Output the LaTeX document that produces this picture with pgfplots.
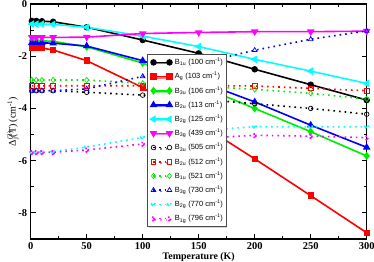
\documentclass[border=0pt]{standalone}
\usepackage{pgfplots}
\pgfplotsset{compat=1.18}
\usepackage{fontspec}
\setmainfont{Liberation Serif}
\setsansfont{Liberation Sans}
\usetikzlibrary{shadows}
\definecolor{cred}{RGB}{255,0,0}
\definecolor{cgreen}{RGB}{0,235,0}
\definecolor{cblue}{RGB}{0,0,255}
\definecolor{ccyan}{RGB}{0,255,255}
\definecolor{cmag}{RGB}{255,0,255}
\newcommand{\sbsp}[2]{\rlap{\textsuperscript{#1}}\textsubscript{#2}}
\begin{document}
\begin{tikzpicture}
\begin{axis}[
  at={(0,0)}, anchor=south west,
  scale only axis, width=336bp, height=235bp,
  xmin=0, xmax=300, ymin=-9, ymax=0,
  xtick={0,50,...,300}, ytick={-8,-6,-4,-2,0},
  minor xtick={25,75,...,275}, minor ytick={-9,-7,-5,-3,-1},
  tick align=inside, major tick length=5bp, minor tick length=3bp,
  axis line style={line width=1.1bp}, tick style={line width=0.8bp, black},
  /pgf/number format/assume math mode=true,
  tick label style={font=\fontsize{10.5}{12}\selectfont\bfseries},
  xlabel={Temperature (K)},
  xlabel style={font=\fontsize{10}{11}\selectfont\bfseries, at={(axis description cs:0.5,0)}, anchor=center, yshift=-17.7bp},
  ylabel={Δ\sbsp{(3)}{j}(T) (cm\textsuperscript{-1})},
  ylabel style={font=\fontsize{10}{12}\selectfont, at={(axis description cs:-0.053,0.5)}, anchor=center},
  legend cell align=left,
  legend style={at={(axis description cs:0.347,0.787)}, anchor=north west,
    font=\sffamily\fontsize{7.5}{8}\selectfont, draw=gray!60!black, line width=0.8bp,
    fill=white, drop shadow={shadow xshift=1.2bp, shadow yshift=-1.2bp, fill=gray!60},
    nodes={inner sep=0pt, text height=7.2bp, text depth=2.6bp},
    row sep=4.4bp, column sep=3bp, inner xsep=3bp, inner ysep=3bp},
  legend image code/.code={\draw[#1, mark repeat=1, mark phase=1] plot coordinates {(0bp,0bp) (16bp,0bp)};},
  every axis plot/.append style={line width=1.6bp},
  sol/.style={solid, mark size=2.4bp, mark options={solid}},
  dot/.style={line width=1.6bp, dash pattern=on 1.6bp off 4bp, mark size=2.3bp, mark options={solid, line width=0.7bp, fill=none}},
]
% solid series
\addplot[sol, black, mark=*] coordinates {(1,-0.65)(5,-0.65)(10,-0.66)(20,-0.68)(50,-0.89)(100,-1.38)(150,-1.89)(200,-2.50)(250,-3.09)(300,-3.68)};
\addlegendentry{B\textsubscript{1u} (100 cm\textsuperscript{-1})}
\addplot[sol, cred, mark=square*] coordinates {(1,-1.67)(5,-1.67)(10,-1.69)(20,-1.76)(50,-2.17)(100,-3.20)(150,-4.56)(200,-5.93)(250,-7.34)(300,-8.76)};
\addlegendentry{A\textsubscript{g} (103 cm\textsuperscript{-1})}
\addplot[sol, cgreen, mark=diamond*, mark size=2.8bp] coordinates {(1,-1.40)(5,-1.40)(10,-1.41)(20,-1.43)(50,-1.64)(100,-2.26)(150,-3.12)(200,-4.00)(250,-4.89)(300,-5.82)};
\addlegendentry{B\textsubscript{3u} (106 cm\textsuperscript{-1})}
\addplot[sol, cblue, mark=triangle*, mark size=2.8bp] coordinates {(1,-1.48)(5,-1.48)(10,-1.49)(20,-1.50)(50,-1.61)(100,-2.17)(150,-2.95)(200,-3.75)(250,-4.64)(300,-5.49)};
\addlegendentry{B\textsubscript{2u} (113 cm\textsuperscript{-1})}
\addplot[sol, ccyan, mark=triangle*, mark size=2.8bp, mark options={rotate=90}] coordinates {(1,-0.77)(5,-0.77)(10,-0.77)(20,-0.78)(50,-0.89)(100,-1.23)(150,-1.63)(200,-2.12)(250,-2.57)(300,-3.04)};
\addlegendentry{B\textsubscript{2g} (125 cm\textsuperscript{-1})}
\addplot[sol, cmag, mark=triangle*, mark size=2.8bp, mark options={rotate=180}] coordinates {(1,-1.28)(5,-1.28)(10,-1.28)(20,-1.28)(50,-1.27)(100,-1.13)(150,-1.09)(200,-1.06)(250,-1.06)(300,-1.04)};
\addlegendentry{B\textsubscript{3g} (439 cm\textsuperscript{-1})}
% dotted series
\addplot[dot, black, mark=o] coordinates {(1,-3.32)(5,-3.32)(10,-3.32)(20,-3.32)(50,-3.38)(100,-3.49)(150,-3.64)(200,-3.82)(250,-4.00)(300,-4.22)};
\addlegendentry{B\textsubscript{3u} (505 cm\textsuperscript{-1})}
\addplot[dot, cred, mark=square] coordinates {(1,-3.13)(5,-3.13)(10,-3.13)(20,-3.13)(50,-3.13)(100,-3.13)(150,-3.13)(200,-3.14)(250,-3.23)(300,-3.32)};
\addlegendentry{B\textsubscript{2u} (512 cm\textsuperscript{-1})}
\addplot[dot, cgreen, mark=diamond, mark size=2.7bp] coordinates {(1,-2.91)(5,-2.91)(10,-2.91)(20,-2.91)(50,-2.91)(100,-3.04)(150,-3.15)(200,-3.27)(250,-3.42)(300,-3.64)};
\addlegendentry{B\textsubscript{1u} (521 cm\textsuperscript{-1})}
\addplot[dot, cblue, mark=triangle, mark size=2.7bp] coordinates {(1,-3.32)(5,-3.32)(10,-3.32)(20,-3.32)(50,-3.25)(100,-2.77)(150,-2.28)(200,-1.77)(250,-1.35)(300,-1.03)};
\addlegendentry{B\textsubscript{3g} (730 cm\textsuperscript{-1})}
\addplot[dot, ccyan, mark=triangle, mark size=2.7bp, mark options={rotate=90}] coordinates {(1,-5.68)(5,-5.68)(10,-5.68)(20,-5.66)(50,-5.48)(100,-5.11)(150,-4.85)(200,-4.70)(250,-4.70)(300,-4.70)};
\addlegendentry{B\textsubscript{2g} (770 cm\textsuperscript{-1})}
\addplot[dot, cmag, mark=triangle, mark size=2.7bp, mark options={rotate=180}] coordinates {(1,-5.68)(5,-5.68)(10,-5.68)(20,-5.68)(50,-5.59)(100,-5.36)(150,-5.15)(200,-5.03)(250,-5.06)(300,-5.12)};
\addlegendentry{B\textsubscript{1g} (796 cm\textsuperscript{-1})}
\end{axis}
\pgfresetboundingbox
\path (-30.7bp,-23bp) rectangle (343.3bp,239bp);
\end{tikzpicture}
\end{document}
